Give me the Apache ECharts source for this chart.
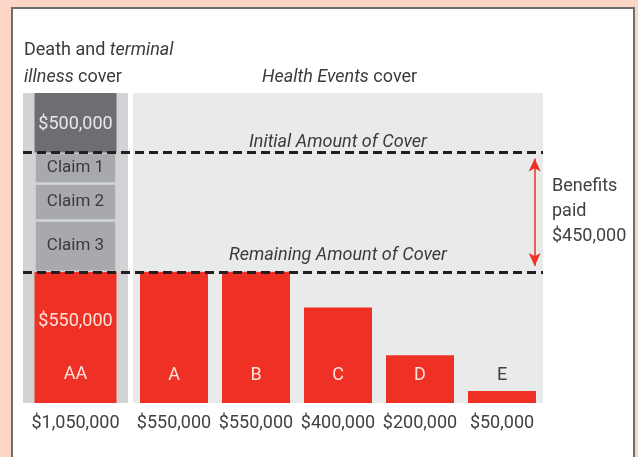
<!DOCTYPE html>
<html>
<head>
<meta charset="utf-8">
<script src="https://cdn.jsdelivr.net/npm/echarts@6/dist/echarts.min.js"></script>
<style>
  html, body { margin: 0; padding: 0; background: #fdd6c6; }
  #chart { width: 638px; height: 457px; }
</style>
</head>
<body>
<div id="chart"></div>
<script>
var FONT = "Roboto, 'Liberation Sans', sans-serif";

// Death and terminal illness cover (left column)
var lifeCategory = ["AA"];
var lifeRemaining = [550000];
var claimNames = ["Claim 3", "Claim 2", "Claim 1"];
var claimValues = [215000, 155000, 130000];
var lifeTop = [250000]; // visible part of the top block, up to the axis max
var lifeTopLabel = "$500,000";
var lifeTotalLabels = ["$1,050,000"];

// Health Events cover (right panel)
var eventCategories = ["A", "B", "C", "D", "E"];
var eventValues = [550000, 550000, 400000, 200000, 50000];
var eventTotalLabels = ["$550,000", "$550,000", "$400,000", "$200,000", "$50,000"];

var initialCover = 1050000;
var remainingCover = 550000;
var arrowGap = 25000;
var yMax = 1300000;

var chartDom = document.getElementById("chart");
var chart = echarts.init(chartDom);

var yAxisBase = { type: "value", min: 0, max: yMax, show: false };
var xLabel = { fontFamily: FONT, fontSize: 18, color: "#414042", margin: 11, interval: 0 };

var series = [];

// left stacked column
series.push({
  type: "bar", xAxisIndex: 0, yAxisIndex: 0, stack: "life", barWidth: 82,
  data: lifeRemaining,
  itemStyle: { color: "#ee3124" },
  label: {
    show: true, position: "insideBottom", distance: 19,
    formatter: function (p) {
      return "{v|$" + p.value.toLocaleString("en-US") + "}\n{n|" + p.name + "}";
    },
    rich: {
      v: { fontFamily: FONT, fontSize: 18, color: "#fde3dc", lineHeight: 86 },
      n: { fontFamily: FONT, fontSize: 18, color: "#fde3dc", lineHeight: 20 }
    }
  }
});
for (var i = 0; i < claimValues.length; i++) {
  series.push({
    type: "bar", xAxisIndex: 0, yAxisIndex: 0, stack: "life", barWidth: 84.5,
    name: claimNames[i],
    data: [claimValues[i]],
    itemStyle: { color: "#a7a9ac", borderColor: "#d1d3d4", borderWidth: 1.25 },
    label: {
      show: true, position: "inside", formatter: claimNames[i],
      fontFamily: FONT, fontSize: 17, color: "#3b3b3d"
    }
  });
}
series.push({
  type: "bar", xAxisIndex: 0, yAxisIndex: 0, stack: "life", barWidth: 82,
  data: lifeTop,
  itemStyle: { color: "#6d6e71" },
  label: {
    show: true, position: "inside", formatter: lifeTopLabel, offset: [0, 2],
    fontFamily: FONT, fontSize: 18, color: "#e6e7e8"
  }
});

// right panel bars
series.push({
  type: "bar", xAxisIndex: 1, yAxisIndex: 1, barWidth: 68,
  data: eventValues.map(function (v, idx) {
    return {
      value: v,
      label: { color: idx === eventValues.length - 1 ? "#414042" : "#fde3dc" }
    };
  }),
  itemStyle: { color: "#ee3124" },
  label: {
    show: true, position: "insideBottom", distance: 19,
    formatter: "{b}", fontFamily: FONT, fontSize: 18
  },
  markLine: {
    silent: true, symbol: "none",
    lineStyle: { color: "rgba(0,0,0,0)", width: 0 },
    label: {
      show: true, position: "insideMiddleTop", fontFamily: FONT, fontSize: 18,
      fontStyle: "italic", color: "#3b3b3d"
    },
    data: [
      { yAxis: initialCover, label: { formatter: "Initial Amount of Cover", distance: 1 } },
      { yAxis: remainingCover, label: { formatter: "Remaining Amount of Cover", distance: 7 } }
    ]
  }
});

// overlay: dashed cover lines across both panels and the benefits arrow
series.push({
  type: "line", xAxisIndex: 2, yAxisIndex: 2, data: [], z: 10,
  markLine: {
    silent: true, symbol: "none",
    lineStyle: { color: "#231f20", width: 3, type: [9, 5] },
    label: { show: false },
    data: [{ yAxis: initialCover }, { yAxis: remainingCover }]
  }
});
series.push({
  type: "line", xAxisIndex: 2, yAxisIndex: 2, data: [], z: 11,
  markLine: {
    silent: true, symbol: ["arrow", "arrow"], symbolSize: [9, 13],
    lineStyle: { color: "#ee3124", width: 1.5, type: "solid" },
    itemStyle: { color: "#ee3124" },
    label: { show: false },
    data: [[
      { coord: [0.984, initialCover - arrowGap] },
      { coord: [0.984, remainingCover + arrowGap] }
    ]]
  }
});

var richHead = {
  n: { fontFamily: FONT, fontSize: 18, fontWeight: "normal", color: "#3b3b3d", lineHeight: 27 },
  i: { fontFamily: FONT, fontSize: 18, fontWeight: "normal", color: "#3b3b3d", lineHeight: 27, fontStyle: "italic" }
};

var option = {
  backgroundColor: "#fdd6c6",
  animation: false,
  textStyle: { fontFamily: FONT },
  graphic: [
    {
      type: "rect", z: -10,
      shape: { x: 12, y: 8, width: 622, height: 470 },
      style: { fill: "#ffffff", stroke: "#6d6e71", lineWidth: 2 }
    },
    {
      type: "text", left: 552, top: 174,
      style: {
        text: "Benefits\npaid\n$450,000", fontFamily: FONT, fontSize: 18,
        lineHeight: 25, fill: "#414042"
      }
    }
  ],
  title: [
    {
      left: 19, top: 32,
      text: "{n|Death and }{i|terminal}\n{i|illness}{n| cover}",
      textStyle: { fontWeight: "normal", rich: richHead }
    },
    {
      left: 257, top: 59,
      text: "{i|Health Events}{n| cover}",
      textStyle: { fontWeight: "normal", rich: richHead }
    }
  ],
  grid: [
    { left: 23, width: 105, top: 93, bottom: 54, show: true, backgroundColor: "#d1d3d4", borderWidth: 0 },
    { left: 133, width: 410, top: 93, bottom: 54, show: true, backgroundColor: "#e9eaea", borderWidth: 0 },
    { left: 23, width: 520, top: 93, bottom: 54 }
  ],
  xAxis: [
    {
      gridIndex: 0, type: "category", data: lifeCategory,
      axisLine: { show: false }, axisTick: { show: false },
      axisLabel: Object.assign({ formatter: function (v, idx) { return lifeTotalLabels[idx]; } }, xLabel)
    },
    {
      gridIndex: 1, type: "category", data: eventCategories,
      axisLine: { show: false }, axisTick: { show: false },
      axisLabel: Object.assign({ formatter: function (v, idx) { return eventTotalLabels[idx]; } }, xLabel)
    },
    { gridIndex: 2, type: "value", min: 0, max: 1, show: false }
  ],
  yAxis: [
    Object.assign({ gridIndex: 0 }, yAxisBase),
    Object.assign({ gridIndex: 1 }, yAxisBase),
    Object.assign({ gridIndex: 2 }, yAxisBase)
  ],
  series: series
};

chart.setOption(option);
</script>
</body>
</html>
